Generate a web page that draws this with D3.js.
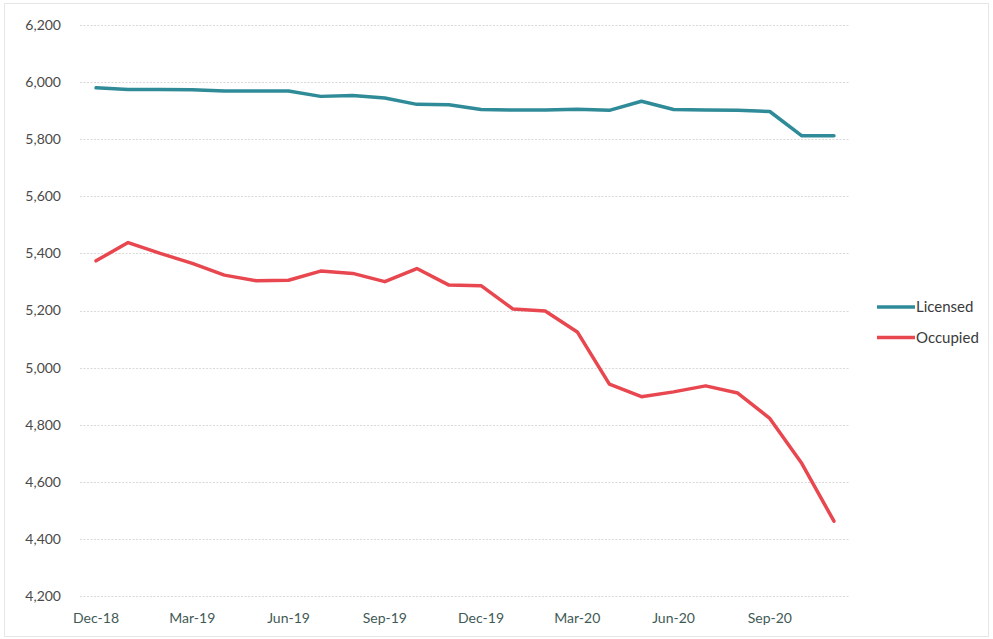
<!DOCTYPE html>
<html>
<head>
<meta charset="utf-8">
<script src="https://cdn.jsdelivr.net/npm/d3@7"></script>
<style>
  body { margin: 0; background: #fff; }
  svg { display: block; font-family: Lato, "Open Sans", sans-serif; }
</style>
</head>
<body>
<svg id="chart" width="993" height="639"></svg>
<script>
// months Dec-18 .. Nov-20
var months = ["Dec-18", "Jan-19", "Feb-19", "Mar-19", "Apr-19", "May-19", "Jun-19", "Jul-19",
  "Aug-19", "Sep-19", "Oct-19", "Nov-19", "Dec-19", "Jan-20", "Feb-20", "Mar-20", "Apr-20",
  "May-20", "Jun-20", "Jul-20", "Aug-20", "Sep-20", "Oct-20", "Nov-20"];

var licensed = [5980, 5974, 5974, 5973, 5969, 5969, 5969, 5950, 5953, 5944, 5922, 5921,
  5904, 5902, 5902, 5905, 5901, 5933, 5904, 5902, 5901, 5897, 5812, 5812];

var occupied = [5374, 5438, 5400, 5365, 5324, 5304, 5306, 5338, 5330, 5301, 5347, 5289,
  5287, 5205, 5198, 5125, 4942, 4898, 4915, 4936, 4911, 4822, 4664, 4462];

var xTickLabels = ["Dec-18", "Mar-19", "Jun-19", "Sep-19", "Dec-19", "Mar-20", "Jun-20", "Sep-20"];
var yTicks = [4200, 4400, 4600, 4800, 5000, 5200, 5400, 5600, 5800, 6000, 6200];

var seriesNames = ["Licensed", "Occupied"];
var seriesColors = ["#2f8b98", "#e8474f"];

var svg = d3.select("#chart"),
  plotLeft = 80,
  plotRight = 850,
  plotTop = 25,
  plotBottom = 596;

// faint scan border
svg.append("rect")
  .attr("x", 4.5).attr("y", 3.5)
  .attr("width", 984).attr("height", 633)
  .attr("fill", "none")
  .attr("stroke", "#e6e6e6")
  .attr("stroke-width", 1);

var x = d3.scaleBand()
  .domain(months)
  .range([plotLeft, plotRight]);

var y = d3.scaleLinear()
  .domain([4200, 6200])
  .range([plotBottom, plotTop]);

// gridlines
svg.append("g")
  .selectAll("line")
  .data(yTicks)
  .enter().append("line")
  .attr("x1", plotLeft)
  .attr("x2", plotRight)
  .attr("y1", d => Math.round(y(d)) + 0.5)
  .attr("y2", d => Math.round(y(d)) + 0.5)
  .attr("stroke", "#d9d9d9")
  .attr("stroke-dasharray", "2,1.5")
  .attr("stroke-width", 1);

// y axis labels
var yAxis = d3.axisLeft(y)
  .tickValues(yTicks)
  .tickSize(0)
  .tickPadding(0)
  .tickFormat(d3.format(","));

svg.append("g")
  .attr("transform", "translate(61,0)")
  .call(yAxis)
  .call(g => g.select(".domain").remove())
  .selectAll("text")
  .attr("font-size", "14px")
  .attr("font-family", "Lato, 'Open Sans', sans-serif")
  .attr("fill", "#4a4a4a");

// x axis labels
var xAxis = d3.axisBottom(x)
  .tickValues(xTickLabels)
  .tickSize(0)
  .tickPadding(0);

svg.append("g")
  .attr("transform", "translate(0," + 613 + ")")
  .call(xAxis)
  .call(g => g.select(".domain").remove())
  .selectAll("text")
  .attr("font-size", "14px")
  .attr("font-family", "Lato, 'Open Sans', sans-serif")
  .attr("fill", "#3f5a55");

var line = d3.line()
  .x((d, i) => x(months[i]) + x.bandwidth() / 2)
  .y(d => y(d));

[licensed, occupied].forEach(function(values, k) {
  svg.append("path")
    .datum(values)
    .attr("d", line)
    .attr("fill", "none")
    .attr("stroke", seriesColors[k])
    .attr("stroke-width", 3.5)
    .attr("stroke-linejoin", "round")
    .attr("stroke-linecap", "round");
});

// legend
var legend = svg.append("g")
  .selectAll("g")
  .data(seriesNames)
  .enter().append("g")
  .attr("transform", (d, i) => "translate(877," + (307 + i * 30.5) + ")");

legend.append("line")
  .attr("x1", 0).attr("x2", 38)
  .attr("y1", 0).attr("y2", 0)
  .attr("stroke", (d, i) => seriesColors[i])
  .attr("stroke-width", 3.5);

legend.append("text")
  .attr("x", 39)
  .attr("y", 0)
  .attr("dy", "0.35em")
  .attr("font-size", "15px")
  .attr("fill", "#3a3a3a")
  .text(d => d);
</script>
</body>
</html>
